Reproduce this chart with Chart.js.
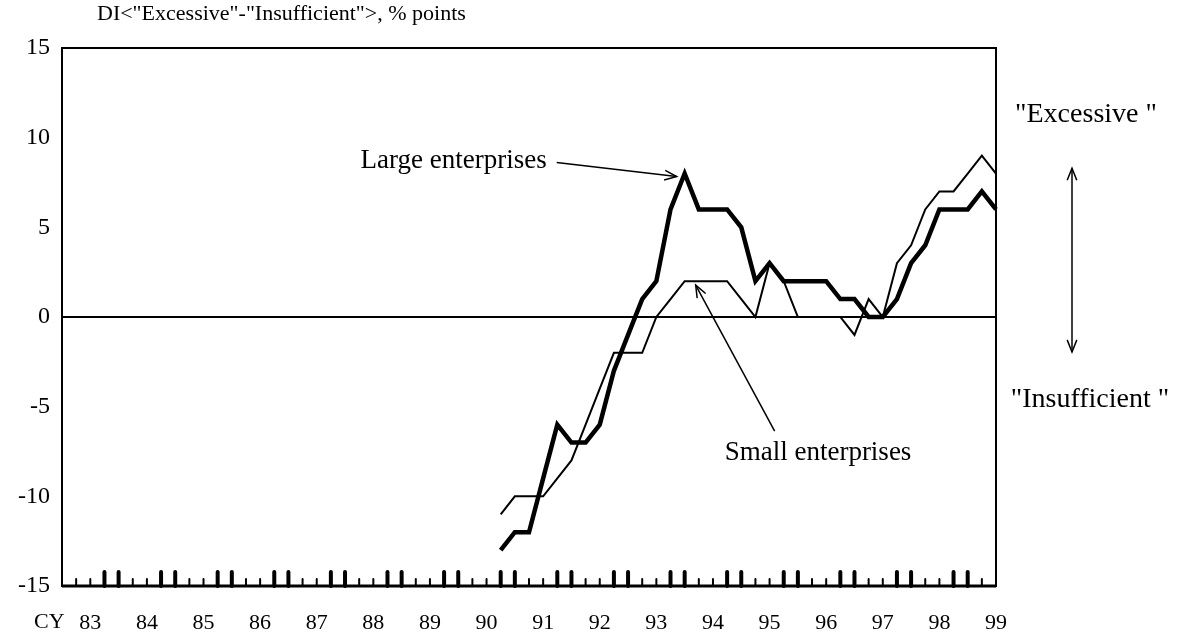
<!DOCTYPE html>
<html>
<head>
<meta charset="utf-8">
<script src="https://cdn.jsdelivr.net/npm/chart.js@4/dist/chart.umd.min.js"></script>
<style>
  html, body { margin: 0; padding: 0; background: #fff; }
  #wrap { width: 1180px; height: 632px; }
</style>
</head>
<body>
<div id="wrap"><canvas id="chart" width="1180" height="632"></canvas></div>
<script>
// Quarterly categories, 1983 Q1 .. 1999 Q3
const quarters = [];
for (let y = 1983; y <= 1999; y++) {
    for (let q = 1; q <= 4; q++) quarters.push(y + 'Q' + q);
}
quarters.length = 67;

// Year labels shown under the axis
const yearLabels = ['83','84','85','86','87','88','89','90','91','92','93','94','95','96','97','98','99'];

// Series start at 1990 Q4
const firstQuarter = '1990Q4';

// DI "Excessive" - "Insufficient", % points
const largeEnterprises = [-13, -12, -12, -9, -6, -7, -7, -6, -3, -1, 1, 2, 6, 8, 6, 6, 6, 5,
    2, 3, 2, 2, 2, 2, 1, 1, 0, 0, 1, 3, 4, 6, 6, 6, 7, 6];
const smallEnterprises = [-11, -10, -10, -10, -9, -8, -6, -4, -2, -2, -2, 0, 1, 2, 2, 2, 2, 1,
    0, 3, 2, 0, 0, 0, 0, -1, 1, 0, 3, 4, 6, 7, 7, 8, 9, 8];

const yTicks = [-15, -10, -5, 0, 5, 10, 15];

// pad a series with nulls so it lines up with the quarter categories
function padSeries(values) {
    const start = quarters.indexOf(firstQuarter);
    const out = quarters.map(() => null);
    values.forEach((v, i) => { out[start + i] = v; });
    return out;
}

const FONT = "'Liberation Serif', 'Times New Roman', serif";

function arrow(ctx, x1, y1, x2, y2, both) {
    const head = 13, ang = 0.38;
    ctx.beginPath();
    ctx.moveTo(x1, y1);
    ctx.lineTo(x2, y2);
    ctx.stroke();
    const drawHead = (fx, fy, tx, ty) => {
        const a = Math.atan2(ty - fy, tx - fx);
        ctx.beginPath();
        ctx.moveTo(tx - head * Math.cos(a - ang), ty - head * Math.sin(a - ang));
        ctx.lineTo(tx, ty);
        ctx.lineTo(tx - head * Math.cos(a + ang), ty - head * Math.sin(a + ang));
        ctx.stroke();
    };
    drawHead(x1, y1, x2, y2);
    if (both) drawHead(x2, y2, x1, y1);
}

// frame, zero line, quarter ticks and the notes
const decorations = {
    id: 'decorations',
    beforeDatasetsDraw(chart) {
        const { ctx, chartArea: a, scales: { y } } = chart;
        ctx.save();
        ctx.strokeStyle = '#000';
        ctx.lineWidth = 2;
        const y0 = Math.round(y.getPixelForValue(0));
        ctx.beginPath();
        ctx.moveTo(a.left, y0);
        ctx.lineTo(a.right, y0);
        ctx.stroke();
        ctx.restore();
    },
    afterDatasetsDraw(chart) {
        const { ctx, chartArea: a, scales: { x, y } } = chart;
        ctx.save();
        ctx.strokeStyle = '#000';
        ctx.fillStyle = '#000';

        // frame
        ctx.lineWidth = 2;
        ctx.strokeRect(a.left, a.top, a.right - a.left, a.bottom - a.top);
        ctx.lineWidth = 3;
        ctx.beginPath();
        ctx.moveTo(a.left, a.bottom);
        ctx.lineTo(a.right, a.bottom);
        ctx.stroke();

        // quarter ticks, pointing up into the plot
        ctx.lineCap = 'round';
        for (let k = 1; k < quarters.length - 1; k++) {
            const px = x.getPixelForValue(k);
            const thick = (k % 4 === 3 || k % 4 === 0);
            ctx.lineWidth = thick ? 4 : 2;
            ctx.beginPath();
            ctx.moveTo(px, a.bottom);
            ctx.lineTo(px, a.bottom - (thick ? 14 : 7));
            ctx.stroke();
        }
        ctx.lineCap = 'butt';

        ctx.textBaseline = 'middle';

        // axis notes
        ctx.textAlign = 'left';
        ctx.font = '22px ' + FONT;
        ctx.fillText('DI<"Excessive"-"Insufficient">, % points', a.left + 35, a.top - 34);
        ctx.fillText('CY', 34, 622);

        ctx.font = '27px ' + FONT;
        // "Large enterprises"
        const lx = x.getPixelForValue(44), ly = y.getPixelForValue(8);
        ctx.textAlign = 'right';
        ctx.fillText('Large enterprises', lx - 138, ly - 13);
        ctx.lineWidth = 1.5;
        arrow(ctx, lx - 128, ly - 11, lx - 8, ly + 3);

        // "Small enterprises"
        const sx = x.getPixelForValue(44), sy = y.getPixelForValue(2);
        ctx.textAlign = 'left';
        ctx.fillText('Small enterprises', sx + 40, sy + 172);
        arrow(ctx, sx + 90, sy + 150, sx + 11, sy + 4);

        // right-hand side legend of the scale
        const mx = a.right + 76;
        ctx.font = '28px ' + FONT;
        ctx.textAlign = 'center';
        ctx.fillText('"Excessive "', mx + 14, y.getPixelForValue(11.3));
        ctx.fillText('"Insufficient "', mx + 18, y.getPixelForValue(-4.6));
        arrow(ctx, mx, y.getPixelForValue(8.3), mx, y.getPixelForValue(-1.95), true);
        ctx.restore();
    }
};

new Chart(document.getElementById('chart'), {
    type: 'line',
    data: {
        labels: quarters,
        datasets: [
            {
                label: 'Large enterprises',
                data: padSeries(largeEnterprises),
                borderColor: '#000',
                borderWidth: 4.5,
                pointRadius: 0,
                tension: 0,
                spanGaps: false
            },
            {
                label: 'Small enterprises',
                data: padSeries(smallEnterprises),
                borderColor: '#000',
                borderWidth: 2,
                pointRadius: 0,
                tension: 0,
                spanGaps: false
            }
        ]
    },
    options: {
        responsive: false,
        animation: false,
        devicePixelRatio: 1,
        layout: { padding: { left: 0, right: 184, top: 48, bottom: 0 } },
        plugins: { legend: { display: false }, tooltip: { enabled: false } },
        scales: {
            x: {
                type: 'category',
                offset: false,
                grid: { display: false, drawTicks: false },
                border: { display: false },
                afterFit: (s) => { s.height = 46; },
                ticks: {
                    autoSkip: false,
                    maxRotation: 0,
                    padding: 24,
                    color: '#000',
                    font: { family: FONT, size: 22 },
                    callback: (v, i) => (i % 4 === 2 ? yearLabels[(i - 2) / 4] : null)
                }
            },
            y: {
                min: yTicks[0],
                max: yTicks[yTicks.length - 1],
                grid: { display: false, drawTicks: false },
                border: { display: false },
                afterFit: (s) => { s.width = 62; },
                afterBuildTicks: (s) => { s.ticks = yTicks.map(v => ({ value: v })); },
                ticks: {
                    padding: 12,
                    color: '#000',
                    font: { family: FONT, size: 24 }
                }
            }
        }
    },
    plugins: [decorations]
});
</script>
</body>
</html>
